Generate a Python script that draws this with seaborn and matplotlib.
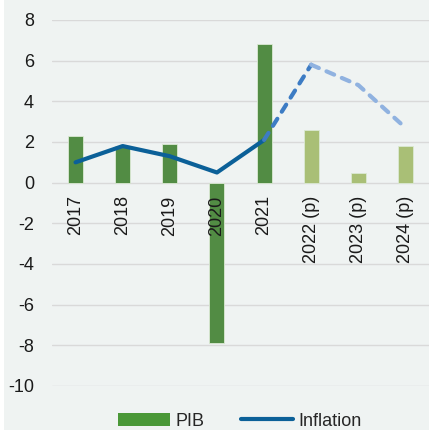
import numpy as np
import pandas as pd
import matplotlib.pyplot as plt
import seaborn as sns
from matplotlib.patches import Patch, Rectangle
from matplotlib.lines import Line2D

# data
years = ['2017', '2018', '2019', '2020', '2021', '2022 (p)', '2023 (p)', '2024 (p)']
pib = [2.3, 1.8, 1.9, -7.9, 6.8, 2.6, 0.5, 1.8]
inflation = [1.0, 1.8, 1.3, 0.5, 2.1, 5.8, 4.8, 2.7]
projected = [False, False, False, False, False, True, True, True]

# colours
bg = '#eff3f2'
green = '#4a9838'
lightgreen = '#aecb6a'
blue = '#0b6098'
blue_dash1 = '#3d7cc4'
blue_dash2 = '#90b2e0'

sns.set_style('white')
plt.rcParams['font.family'] = ['Liberation Sans', 'DejaVu Sans']
plt.rcParams['axes.unicode_minus'] = False

df = pd.DataFrame({'year': years, 'pib': pib, 'inflation': inflation})
bar_colors = [lightgreen if p else green for p in projected]

fig = plt.figure(figsize=(4.29, 4.30), dpi=100, facecolor=bg)
fig.patches.append(Rectangle((0, 0), 4 / 429, 1, transform=fig.transFigure,
                             facecolor='white', edgecolor='none', zorder=-1))
ax = fig.add_axes([52 / 429, 44 / 430, 1 - 52 / 429, 366 / 430])
ax.set_facecolor(bg)

sns.barplot(data=df, x='year', y='pib', hue='year', palette=bar_colors,
            legend=False, width=0.32, ax=ax, zorder=2,
            edgecolor='#dbe9d4', linewidth=0.6)

x = np.arange(len(years))
dash = (0, (2.0, 2.0))
# actual inflation (solid), projections dashed in two shades
ax.plot(x[:5], inflation[:5], color=blue, lw=3, solid_capstyle='round',
        solid_joinstyle='round', zorder=3)
ax.plot(x[4:6], inflation[4:6], color=blue_dash1, lw=3, ls=dash,
        dash_capstyle='round', zorder=3)
ax.plot(x[5:], inflation[5:], color=blue_dash2, lw=3, ls=dash,
        dash_capstyle='round', zorder=3)

ax.set_ylim(-10, 8)
ax.set_xlim(-0.5, len(years) - 0.5)
ax.set_yticks(range(-10, 9, 2))
ax.yaxis.grid(True, color='#d9d9d9', lw=1)
ax.set_axisbelow(True)
ax.tick_params(axis='y', length=0, pad=13, labelsize=13, labelcolor='#1a1a1a')
ax.set_xticks([])
ax.set_xlabel('')
ax.set_ylabel('')
for s in ax.spines.values():
    s.set_visible(False)

# category labels sit just under the zero line
for i, label in enumerate(years):
    ax.text(i, -0.62, label, rotation=90, ha='center', va='top',
            fontsize=13, color='#1a1a1a', zorder=4)

handles = [Patch(facecolor=green, edgecolor='none'),
           Line2D([0], [0], color=blue, lw=3, solid_capstyle='round')]
fig.legend(handles, ['PIB', 'Inflation'], loc='center', ncol=2,
           bbox_to_anchor=(240 / 429, 9 / 430), frameon=False, fontsize=13,
           handlelength=2.9, handletextpad=0.3, columnspacing=2.0)

fig.savefig('out.png', dpi=100, facecolor=bg)
